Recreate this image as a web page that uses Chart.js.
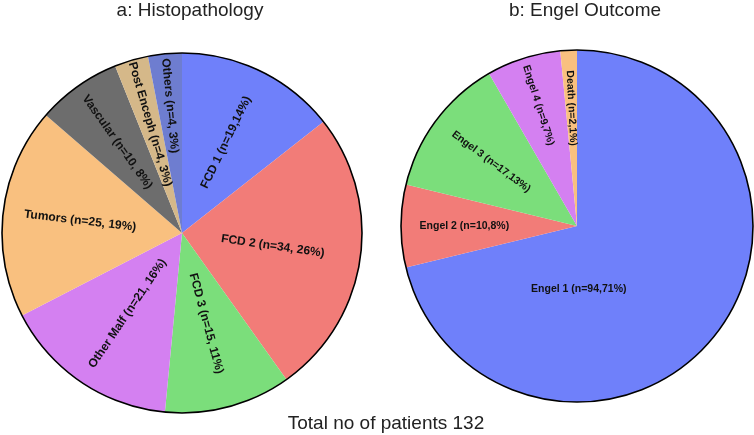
<!DOCTYPE html>
<html>
<head>
<meta charset="utf-8">
<script src="https://cdn.jsdelivr.net/npm/chart.js@4"></script>
<style>
  body { margin: 0; background: #fff; }
  #wrap { position: relative; width: 754px; height: 435px; overflow: hidden; font-family: "Liberation Sans", Arial, sans-serif; color: #222; }
  canvas { position: absolute; top: 0; }
  .txt { position: absolute; font-size: 19px; line-height: 22px; white-space: nowrap; transform: translateX(-50%); }
</style>
</head>
<body>
<div id="wrap">
  <canvas id="histoChart" width="377" height="435" style="left:0"></canvas>
  <canvas id="engelChart" width="377" height="435" style="left:377px"></canvas>
  <div class="txt" style="left:190px; top:-1px">a: Histopathology</div>
  <div class="txt" style="left:585px; top:-1px">b: Engel Outcome</div>
  <div class="txt" style="left:386px; top:412px">Total no of patients 132</div>
</div>
<script>
// DATA
const histoCategories = ["FCD 1", "FCD 2", "FCD 3", "Other Malf", "Tumors", "Vascular", "Post Enceph", "Others"];
const histoCounts = [19, 34, 15, 21, 25, 10, 4, 4];
const histoLabels = ["FCD 1 (n=19,14%)", "FCD 2 (n=34, 26%)", "FCD 3 (n=15, 11%)", "Other Malf (n=21, 16%)",
  "Tumors (n=25, 19%)", "Vascular (n=10, 8%)", "Post Enceph (n=4, 3%)", "Others (n=4, 3%)"];

const engelCategories = ["Engel 1", "Engel 2", "Engel 3", "Engel 4", "Death"];
const engelCounts = [94, 10, 17, 9, 2];
const engelLabels = ["Engel 1 (n=94,71%)", "Engel 2 (n=10,8%)", "Engel 3 (n=17,13%)", "Engel 4 (n=9,7%)", "Death (n=2,1%)"];

const histoColors = ["#6f80fa", "#f27c78", "#7bde7b", "#d480f1", "#f9c07f", "#6d6d6d", "#d5b889", "#6e7dd0"];
const engelColors = ["#6f80fa", "#f27c78", "#7bde7b", "#d480f1", "#f9c07f"];

// draws the black rim and the rotated slice labels
const sliceLabels = {
  id: "sliceLabels",
  afterDatasetsDraw(chart, args, opts) {
    const ctx = chart.ctx;
    const arcs = chart.getDatasetMeta(0).data;
    if (!arcs.length) return;
    const cx = arcs[0].x, cy = arcs[0].y, R = arcs[0].outerRadius;

    ctx.save();
    ctx.beginPath();
    ctx.arc(cx, cy, R, 0, Math.PI * 2);
    ctx.lineWidth = 1.6;
    ctx.strokeStyle = "#000";
    ctx.stroke();

    ctx.font = "bold " + opts.size + "px 'Liberation Sans', Arial, sans-serif";
    ctx.fillStyle = "#111";
    ctx.textAlign = "center";
    ctx.textBaseline = "middle";

    arcs.forEach((arc, i) => {
      const mid = (arc.startAngle + arc.endAngle) / 2;
      const text = opts.texts[i];
      const f = opts.radius[i];
      let x, y, rot;
      if (f === null) {
        // big slice: flat label below the centre
        x = cx + opts.flatOffset[0] * R;
        y = cy + opts.flatOffset[1] * R;
        rot = 0;
      } else {
        x = cx + Math.cos(mid) * f * R;
        y = cy + Math.sin(mid) * f * R;
        rot = Math.cos(mid) >= -0.001 ? mid : mid + Math.PI;
      }
      ctx.save();
      ctx.translate(x, y);
      ctx.rotate(rot);
      ctx.fillText(text, 0, 0);
      ctx.restore();
    });
    ctx.restore();
  }
};

function makePie(id, cats, counts, colors, pad, labelOpts) {
  return new Chart(document.getElementById(id), {
    type: "pie",
    data: {
      labels: cats,
      datasets: [{
        data: counts,
        backgroundColor: colors,
        borderWidth: 0
      }]
    },
    options: {
      responsive: false,
      devicePixelRatio: 1,
      animation: false,
      layout: { padding: pad },
      plugins: {
        legend: { display: false },
        tooltip: { enabled: false },
        title: { display: false },
        sliceLabels: labelOpts
      }
    },
    plugins: [sliceLabels]
  });
}

makePie("histoChart", histoCategories, histoCounts, histoColors,
  { top: 53, left: 2, right: 15, bottom: 22 },
  { texts: histoLabels, size: 12, radius: [0.56, 0.51, 0.52, 0.54, 0.57, 0.62, 0.63, 0.71], flatOffset: [0, 0] });

makePie("engelChart", engelCategories, engelCounts, engelColors,
  { top: 50, left: 24, right: 1, bottom: 33 },
  { texts: engelLabels, size: 10.5, radius: [null, 0.64, 0.61, 0.72, 0.67], flatOffset: [0.01, 0.36] });
</script>
</body>
</html>
